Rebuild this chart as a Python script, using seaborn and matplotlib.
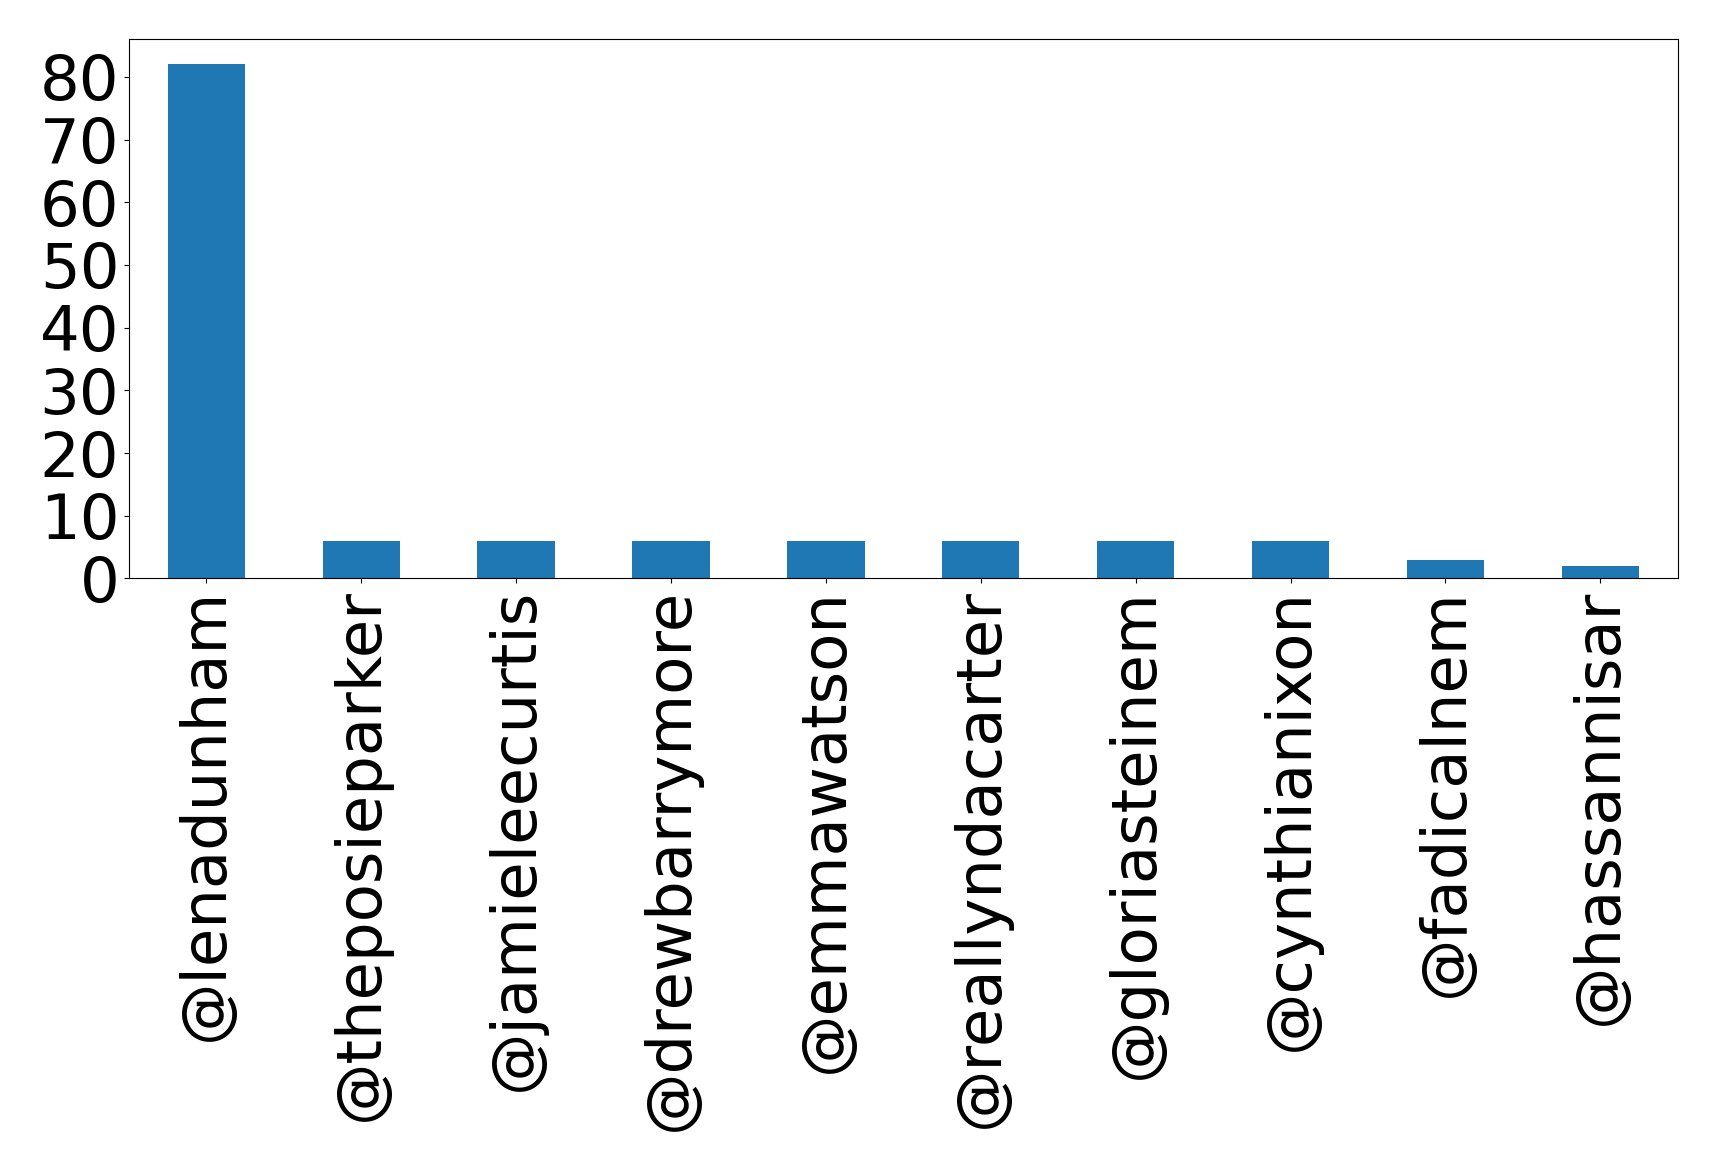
import pandas as pd
import matplotlib
matplotlib.use("Agg")
import matplotlib.pyplot as plt
import seaborn as sns

handles = ['@lenadunham', '@theposieparker', '@jamieleecurtis', '@drewbarrymore',
           '@emmawatson', '@reallyndacarter', '@gloriasteinem', '@cynthianixon',
           '@fadicalnem', '@hassannisar']
counts = [82, 6, 6, 6, 6, 6, 6, 6, 3, 2]
yticks = [0, 10, 20, 30, 40, 50, 60, 70, 80]

df = pd.DataFrame({'handle': handles, 'count': counts})

fig, ax = plt.subplots(figsize=(17.19, 11.71), dpi=100)
sns.barplot(data=df, x='handle', y='count', color='#1f77b4', width=0.5,
            saturation=1, ax=ax)
ax.set_xlim(-0.5, len(handles) - 0.5)
ax.set_ylim(0, max(counts) * 1.05)
ax.set_yticks(yticks)
ax.set_xlabel('')
ax.set_ylabel('')
ax.tick_params(axis='both', labelsize=45)
plt.setp(ax.get_xticklabels(), rotation=90)
plt.subplots_adjust(left=0.075, right=0.976, top=0.967, bottom=0.506)
plt.savefig('out.png')
